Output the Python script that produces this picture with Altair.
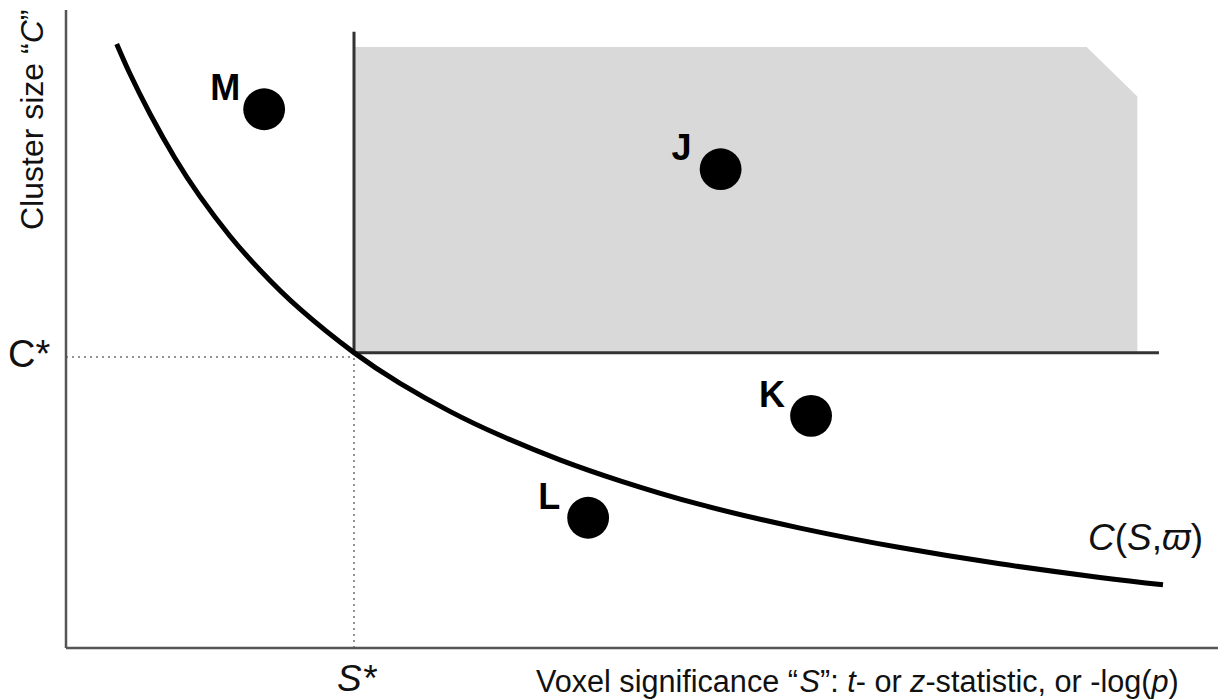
import altair as alt
import pandas as pd

# ---------------- data ----------------
S_MAX = 4.0      # extent of the voxel-significance axis (S* = 1)
C_MAX = 2.16     # extent of the cluster-size axis (C* = 1)
S_STAR = 1.0
C_STAR = 1.0
C_DOTTED = 0.985   # dotted guide sits a hair below the solid threshold line
S_SOLID_TOP = 2.086
C_SOLID_RIGHT = 3.795

curve_S = [0.176, 0.222, 0.292, 0.378, 0.465, 0.569, 0.674, 0.813, 1.0, 1.160,
           1.333, 1.507, 1.715, 1.924, 2.201, 2.549, 2.896, 3.243, 3.590, 3.809]
curve_C = [2.045, 1.944, 1.808, 1.659, 1.529, 1.395, 1.279, 1.147, 1.0, 0.896,
           0.801, 0.720, 0.637, 0.566, 0.486, 0.406, 0.340, 0.285, 0.239, 0.214]

point_names = ["M", "J", "K", "L"]
point_S = [0.688, 2.273, 2.587, 1.813]
point_C = [1.824, 1.621, 0.786, 0.441]

region_S = [1.0, 3.544, 3.72]
region_C = [2.035, 2.035, 1.867]

# ---------------- layout helpers ----------------
W_PLOT, H_PLOT = 1152, 638
PAD_L, PAD_T = 66, 10
PX_S = W_PLOT / S_MAX
PX_C = H_PLOT / C_MAX

ARIAL = {"V": 667, "o": 556, "x": 500, "e": 556, "l": 222, " ": 278, "s": 500,
         "i": 222, "g": 556, "n": 556, "f": 278, "c": 500, "a": 556, "\u201c": 333,
         "\u201d": 333, "S": 667, ":": 278, "t": 278, "-": 333, "r": 333, "z": 500,
         ",": 278, "(": 333, ")": 333, "p": 556, "C": 722, "u": 556, "\u03d6": 780,
         "*": 389}


def to_S(px):
    return (px - PAD_L) / PX_S


def to_C(py):
    return (PAD_T + H_PLOT - py) / PX_C


def runs(parts, x0, y0, size, angle=0):
    rows, pos = [], 0.0
    for txt, ital in parts:
        if angle == 0:
            px, py = x0 + pos, y0
        else:
            px, py = x0, y0 - pos
        rows.append(dict(text=txt, S=to_S(px), C=to_C(py), size=size,
                         angle=angle, italic=ital))
        pos += sum(ARIAL.get(ch, 556) for ch in txt) * size / 1000.0
    return rows


ann = []
ann += runs([("Voxel significance \u201c", False), ("S", True), ("\u201d: ", False),
             ("t", True), ("- or ", False), ("z", True),
             ("-statistic, or -log(", False), ("p", True), (")", False)],
            536, 692, 30.6)
ann += runs([("Cluster size \u201c", False), ("C", True), ("\u201d", False)],
            43, 230, 32, angle=270)
ann += runs([("C", True), ("(", False), ("S", True), (",", False),
             ("\u03d6", True), (")", False)], 1088, 550, 37)
ann += runs([("S*", True)], 337, 691, 37)
ann += runs([("C*", False)], 8, 367, 38)
ann_df = pd.DataFrame(ann)

# ---------------- tables ----------------
curve_df = pd.DataFrame({"S": curve_S, "C": curve_C})
pts_df = pd.DataFrame({"name": point_names, "S": point_S, "C": point_C})
region_df = pd.DataFrame({"S": region_S, "C": region_C, "C0": [C_STAR] * 3})

axes_df = pd.DataFrame({"x": [0, 0], "x2": [S_MAX, 0], "y": [0, 0], "y2": [0, C_MAX]})
thr_df = pd.DataFrame({"x": [S_STAR, S_STAR], "x2": [S_STAR, C_SOLID_RIGHT],
                       "y": [C_STAR, C_STAR], "y2": [S_SOLID_TOP, C_STAR]})
dot_df = pd.DataFrame({"x": [0, S_STAR], "x2": [S_STAR, S_STAR],
                       "y": [C_DOTTED, 0], "y2": [C_DOTTED, C_DOTTED]})

xs = alt.Scale(domain=[0, S_MAX], nice=False, zero=False)
ys = alt.Scale(domain=[0, C_MAX], nice=False, zero=False)
FONT = "Liberation Sans"

shade = alt.Chart(region_df).mark_area(color="#d9d9d9", interpolate="linear").encode(
    x=alt.X("S:Q", scale=xs, axis=None),
    y=alt.Y("C:Q", scale=ys, axis=None),
    y2="C0:Q",
)


def rule_layer(df, **mk):
    return alt.Chart(df).mark_rule(**mk).encode(
        x=alt.X("x:Q", scale=xs, axis=None), x2="x2:Q",
        y=alt.Y("y:Q", scale=ys, axis=None), y2="y2:Q",
    )


dotted = rule_layer(dot_df, color="#707070", strokeWidth=1.5, strokeDash=[2, 4])
axes = rule_layer(axes_df, color="#555555", strokeWidth=2.5)
thr = rule_layer(thr_df, color="#333333", strokeWidth=3)

curve = alt.Chart(curve_df).mark_line(
    color="black", strokeWidth=5, interpolate="natural", strokeCap="butt"
).encode(
    x=alt.X("S:Q", scale=xs, axis=None),
    y=alt.Y("C:Q", scale=ys, axis=None),
)

dots = alt.Chart(pts_df).mark_circle(size=1750, color="black", opacity=1).encode(
    x=alt.X("S:Q", scale=xs, axis=None),
    y=alt.Y("C:Q", scale=ys, axis=None),
)

labels = alt.Chart(pts_df).mark_text(
    font=FONT, fontWeight="bold", fontSize=36, align="center",
    baseline="alphabetic", dx=-39, dy=-9, color="black",
).encode(
    x=alt.X("S:Q", scale=xs, axis=None),
    y=alt.Y("C:Q", scale=ys, axis=None),
    text="name:N",
)


def ann_layer(italic):
    return alt.Chart(ann_df).transform_filter(
        alt.datum.italic == italic
    ).mark_text(
        font=FONT, fontStyle="italic" if italic else "normal",
        align="left", baseline="alphabetic", color="#111111",
    ).encode(
        x=alt.X("S:Q", scale=xs, axis=None),
        y=alt.Y("C:Q", scale=ys, axis=None),
        text="text:N",
        size=alt.Size("size:Q", scale=None, legend=None),
        angle=alt.Angle("angle:Q", scale=None),
    )


chart = alt.layer(
    shade, dotted, axes, thr, curve, dots, labels, ann_layer(False), ann_layer(True)
).properties(
    width=W_PLOT, height=H_PLOT,
    padding={"left": PAD_L, "top": PAD_T, "right": 0, "bottom": 52},
    autosize=alt.AutoSizeParams(type="none"),
    background="white",
).configure_view(stroke=None)

chart.save("out.html", embed_options={"renderer": "svg", "actions": False})
